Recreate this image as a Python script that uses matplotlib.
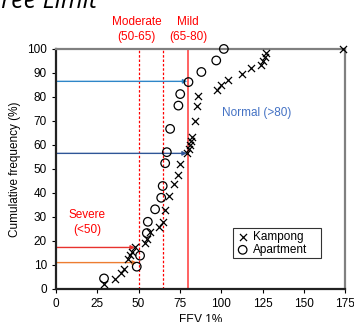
import matplotlib
matplotlib.use("Agg")
import matplotlib.pyplot as plt

plt.rcParams['font.family'] = ['Liberation Sans', 'DejaVu Sans']

# Kampong (x markers): FEV1 %, cumulative frequency %
kampong_fev = [29, 36, 39.4, 41.4, 43.8, 45.1, 46.3, 48, 54, 55, 57, 62.6, 65, 66,
               68.7, 71.6, 73.8, 75.0, 79.6, 80.5, 81.2, 81.8, 82.4, 84.0, 85.1, 86.1,
               97.2, 99.8, 103.9, 112.8, 118, 124.2, 125.3, 126.7, 127.3, 174]
kampong_cum = [2, 4.2, 6.5, 8.2, 12.4, 14.2, 15.5, 17.3, 19.3, 20.7, 23.9, 26, 28, 32.8,
               38.8, 43.6, 47.6, 52.1, 56.5, 58.2, 60, 61.8, 63.5, 69.8, 76.2, 80.5,
               82.8, 85, 87.1, 89.7, 91.9, 93.3, 95.1, 96.5, 98.2, 100]

# Apartment (open circles)
apart_fev = [29.1, 48.9, 50.9, 55, 55.6, 60, 63.7, 64.6, 66.1, 67.1, 69.1, 74.1, 75.2,
             80.2, 88, 97, 101.6]
apart_cum = [4.4, 9.3, 13.9, 23.3, 28, 33.2, 38, 42.9, 52.4, 57, 66.7, 76.4, 81.2,
             86.2, 90.4, 95.2, 100]

# Grade limits
moderate_lines = [50, 65]
mild_line = 80

# Horizontal arrows: (y, x_end, colour)
arrow_y = [86.5, 56.5, 17.3, 11]
arrow_xend = [79.5, 79.2, 47.8, 49]
arrow_col = ['#2e86c8', '#2f5597', '#e8322d', '#ed7d31']

x_ticks = [0, 25, 50, 75, 100, 125, 150, 175]
y_ticks = [0, 10, 20, 30, 40, 50, 60, 70, 80, 90, 100]

fig = plt.figure(figsize=(3.54, 3.22), dpi=100)
ax = fig.add_axes([0.158, 0.1025, 0.817, 0.7455])

ax.set_xlim(0, 175)
ax.set_ylim(0, 100)

for xv in moderate_lines:
    ax.axvline(xv, color='#ff0000', lw=0.9, ls=(0, (2, 1.5)), zorder=1)
ax.axvline(mild_line, color='#ff5555', lw=1.3, zorder=1)

for y, xe, c in zip(arrow_y, arrow_xend, arrow_col):
    ax.annotate('', xy=(xe, y), xytext=(0, y),
                arrowprops=dict(arrowstyle='-|>', color=c, lw=1.0,
                                mutation_scale=6, shrinkA=0, shrinkB=0),
                zorder=2)

ax.scatter(kampong_fev, kampong_cum, marker='x', s=26, color='black',
           linewidths=0.9, label='Kampong', zorder=3, clip_on=False)
ax.scatter(apart_fev, apart_cum, marker='o', s=38, facecolors='none',
           edgecolors='black', linewidths=0.9, label='Apartment', zorder=3,
           clip_on=False)

ax.set_xticks(x_ticks)
ax.set_yticks(y_ticks)
ax.tick_params(labelsize=8.5, length=3, width=0.8, colors='black')
ax.set_xlabel('FEV 1%', fontsize=8.5, labelpad=3)
ax.set_ylabel('Cumulative frequency (%)', fontsize=8.5, labelpad=4)

for s in ['left', 'bottom']:
    ax.spines[s].set_color('#222222')
    ax.spines[s].set_linewidth(1.6)
for s in ['top', 'right']:
    ax.spines[s].set_color('#808080')
    ax.spines[s].set_linewidth(1.6)

ax.text(49, 102.6, 'Moderate\n(50-65)', color='#ff0000', fontsize=8.5,
        ha='center', va='bottom', linespacing=1.3)
ax.text(80, 102.6, 'Mild\n(65-80)', color='#ff0000', fontsize=8.5,
        ha='center', va='bottom', linespacing=1.3)
ax.text(121.5, 73.3, 'Normal (>80)', color='#4472c4', fontsize=8.5,
        ha='center', va='center')
ax.text(18.8, 27.7, 'Severe\n(<50)', color='#ff0000', fontsize=8.5,
        ha='center', va='center', linespacing=1.3)

leg = ax.legend(loc='lower left', bbox_to_anchor=(0.613, 0.128, 0.303, 0.115),
                mode='expand', fontsize=8.5, frameon=True, fancybox=False,
                borderpad=0.2, handletextpad=0.3, labelspacing=0.1,
                handlelength=1.2, borderaxespad=0)
leg.get_frame().set_edgecolor('black')
leg.get_frame().set_linewidth(0.8)

fig.text(97 / 354, 1 - 7.5 / 322, 'Degree Limit', fontsize=18, style='italic',
         family=['Open Sans', 'DejaVu Sans'], ha='right', va='baseline')

fig.savefig('out.png', dpi=100)
